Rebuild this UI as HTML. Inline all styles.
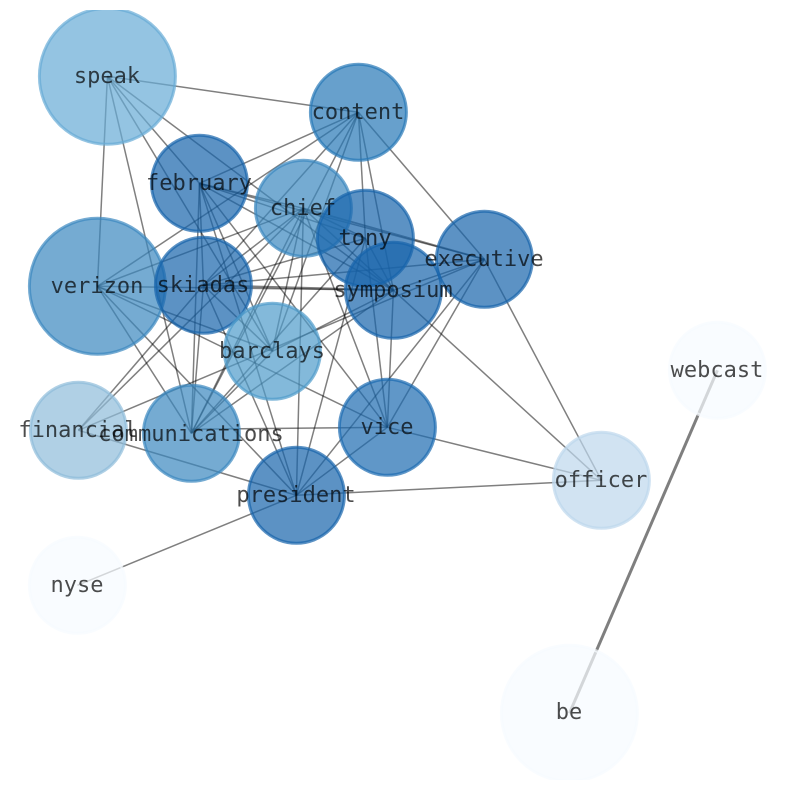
<!DOCTYPE html>
<html><head><meta charset="utf-8"><style>
html,body{margin:0;padding:0;background:#fff;width:794px;height:790px;overflow:hidden}
svg{display:block}
line{stroke:#000;stroke-opacity:.5;stroke-width:1.5}
line.t{stroke-width:3}
line.m{stroke-width:2.2}
line.s{stroke-width:1.8}
circle{fill-opacity:.7;stroke-opacity:.7;stroke-width:3}
text{font-family:"DejaVu Sans Mono","Liberation Mono",monospace;font-size:22px;fill:#000;fill-opacity:.7;text-anchor:middle}
</style></head><body>
<svg width="794" height="790" viewBox="0 0 794 790" xmlns="http://www.w3.org/2000/svg">
<defs><clipPath id="c"><rect x="10" y="10" width="774" height="770"/></clipPath></defs>
<g clip-path="url(#c)"><g transform="translate(.4 .3)">
<!-- speak -->
<line x1="107" y1="76" x2="358" y2="112"/><line x1="107" y1="76" x2="97" y2="286"/><line x1="107" y1="76" x2="191" y2="433"/><line x1="107" y1="76" x2="272" y2="351"/><line x1="107" y1="76" x2="199" y2="183"/><line x1="107" y1="76" x2="393" y2="290"/>
<!-- content -->
<line x1="358" y1="112" x2="199" y2="183"/><line x1="358" y1="112" x2="97" y2="286"/><line x1="358" y1="112" x2="203" y2="285"/><line x1="358" y1="112" x2="365" y2="238"/><line x1="358" y1="112" x2="393" y2="290"/><line x1="358" y1="112" x2="484" y2="259"/><line x1="358" y1="112" x2="191" y2="433"/><line x1="358" y1="112" x2="272" y2="351"/>
<!-- february -->
<line x1="199" y1="183" x2="303" y2="208"/><line x1="199" y1="183" x2="365" y2="238"/><line x1="199" y1="183" x2="484" y2="259"/><line x1="199" y1="183" x2="393" y2="290"/><line x1="199" y1="183" x2="203" y2="285"/><line x1="199" y1="183" x2="272" y2="351"/><line x1="199" y1="183" x2="191" y2="433"/><line x1="199" y1="183" x2="296" y2="495"/><line x1="199" y1="183" x2="387" y2="427"/>
<!-- chief -->
<line x1="303" y1="208" x2="365" y2="238"/><line class="s" x1="303" y1="208" x2="484" y2="259"/><line x1="303" y1="208" x2="393" y2="290"/><line x1="303" y1="208" x2="203" y2="285"/><line x1="303" y1="208" x2="97" y2="286"/><line x1="303" y1="208" x2="78" y2="430"/><line x1="303" y1="208" x2="191" y2="433"/><line x1="303" y1="208" x2="272" y2="351"/><line x1="303" y1="208" x2="296" y2="495"/><line x1="303" y1="208" x2="387" y2="427"/>
<!-- tony -->
<line x1="365" y1="238" x2="393" y2="290"/><line x1="365" y1="238" x2="203" y2="285"/><line x1="365" y1="238" x2="191" y2="433"/><line x1="365" y1="238" x2="296" y2="495"/><line x1="365" y1="238" x2="387" y2="427"/>
<!-- executive -->
<line x1="484" y1="259" x2="393" y2="290"/><line x1="484" y1="259" x2="203" y2="285"/><line x1="484" y1="259" x2="78" y2="430"/><line x1="484" y1="259" x2="387" y2="427"/><line x1="484" y1="259" x2="296" y2="495"/><line x1="484" y1="259" x2="601" y2="480"/>
<!-- symposium -->
<line class="m" x1="393" y1="290" x2="203" y2="285"/><line x1="393" y1="290" x2="97" y2="286"/><line x1="393" y1="290" x2="272" y2="351"/><line x1="393" y1="290" x2="191" y2="433"/><line x1="393" y1="290" x2="387" y2="427"/><line x1="393" y1="290" x2="601" y2="480"/>
<!-- verizon -->
<line x1="97" y1="286" x2="272" y2="351"/><line x1="97" y1="286" x2="191" y2="433"/><line x1="97" y1="286" x2="296" y2="495"/><line x1="97" y1="286" x2="387" y2="427"/>
<!-- skiadas -->
<line x1="203" y1="285" x2="272" y2="351"/><line x1="203" y1="285" x2="78" y2="430"/><line x1="203" y1="285" x2="191" y2="433"/><line x1="203" y1="285" x2="296" y2="495"/>
<!-- barclays -->
<line x1="272" y1="351" x2="191" y2="433"/>
<!-- others -->
<line x1="78" y1="430" x2="296" y2="495"/><line x1="191" y1="429" x2="387" y2="427"/><line x1="387" y1="427" x2="296" y2="495"/><line x1="387" y1="427" x2="601" y2="480"/><line x1="296" y1="495" x2="601" y2="480"/><line x1="296" y1="495" x2="77" y2="585"/>
<line class="t" x1="717" y1="370" x2="569" y2="713"/>
<!-- nodes -->
<circle cx="107" cy="76" r="68" fill="#66abd5" stroke="#66abd5"/>
<circle cx="97" cy="286" r="68" fill="#3a87bf" stroke="#3a87bf"/>
<circle cx="358" cy="112" r="48" fill="#2777b6" stroke="#2777b6"/>
<circle cx="199" cy="183" r="48" fill="#1764ab" stroke="#1764ab"/>
<circle cx="303" cy="208" r="48" fill="#3a87bf" stroke="#3a87bf"/>
<circle cx="365" cy="238" r="48" fill="#1764ab" stroke="#1764ab"/>
<circle cx="484" cy="259" r="48" fill="#1764ab" stroke="#1764ab"/>
<circle cx="393" cy="290" r="48" fill="#1764ab" stroke="#1764ab"/>
<circle cx="203" cy="285" r="48" fill="#1764ab" stroke="#1764ab"/>
<circle cx="272" cy="351" r="48" fill="#4f9bcb" stroke="#4f9bcb"/>
<circle cx="78" cy="430" r="48" fill="#8ebcda" stroke="#8ebcda"/>
<circle cx="191" cy="433" r="48" fill="#3a87bf" stroke="#3a87bf"/>
<circle cx="387" cy="427" r="48" fill="#1c6bb0" stroke="#1c6bb0"/>
<circle cx="296" cy="495" r="48" fill="#1764ab" stroke="#1764ab"/>
<circle cx="601" cy="480" r="48" fill="#bdd7ec" stroke="#bdd7ec"/>
<circle cx="717" cy="370" r="48" fill="#f7fbff" stroke="#f7fbff"/>
<circle cx="77" cy="585" r="48" fill="#f7fbff" stroke="#f7fbff"/>
<circle cx="569" cy="713" r="68" fill="#f7fbff" stroke="#f7fbff"/>
</g></g>
<text x="107" y="83">speak</text>
<text x="358" y="119">content</text>
<text x="199" y="190">february</text>
<text x="303" y="215">chief</text>
<text x="365" y="245">tony</text>
<text x="484" y="266">executive</text>
<text x="393" y="297">symposium</text>
<text x="97" y="293">verizon</text>
<text x="203" y="292">skiadas</text>
<text x="272" y="358">barclays</text>
<text x="78" y="437">financial</text>
<text x="191" y="441">communications</text>
<text x="387" y="434">vice</text>
<text x="296" y="502">president</text>
<text x="601" y="487">officer</text>
<text x="717" y="377">webcast</text>
<text x="77" y="592">nyse</text>
<text x="569" y="719">be</text>
</svg>
</body></html>
